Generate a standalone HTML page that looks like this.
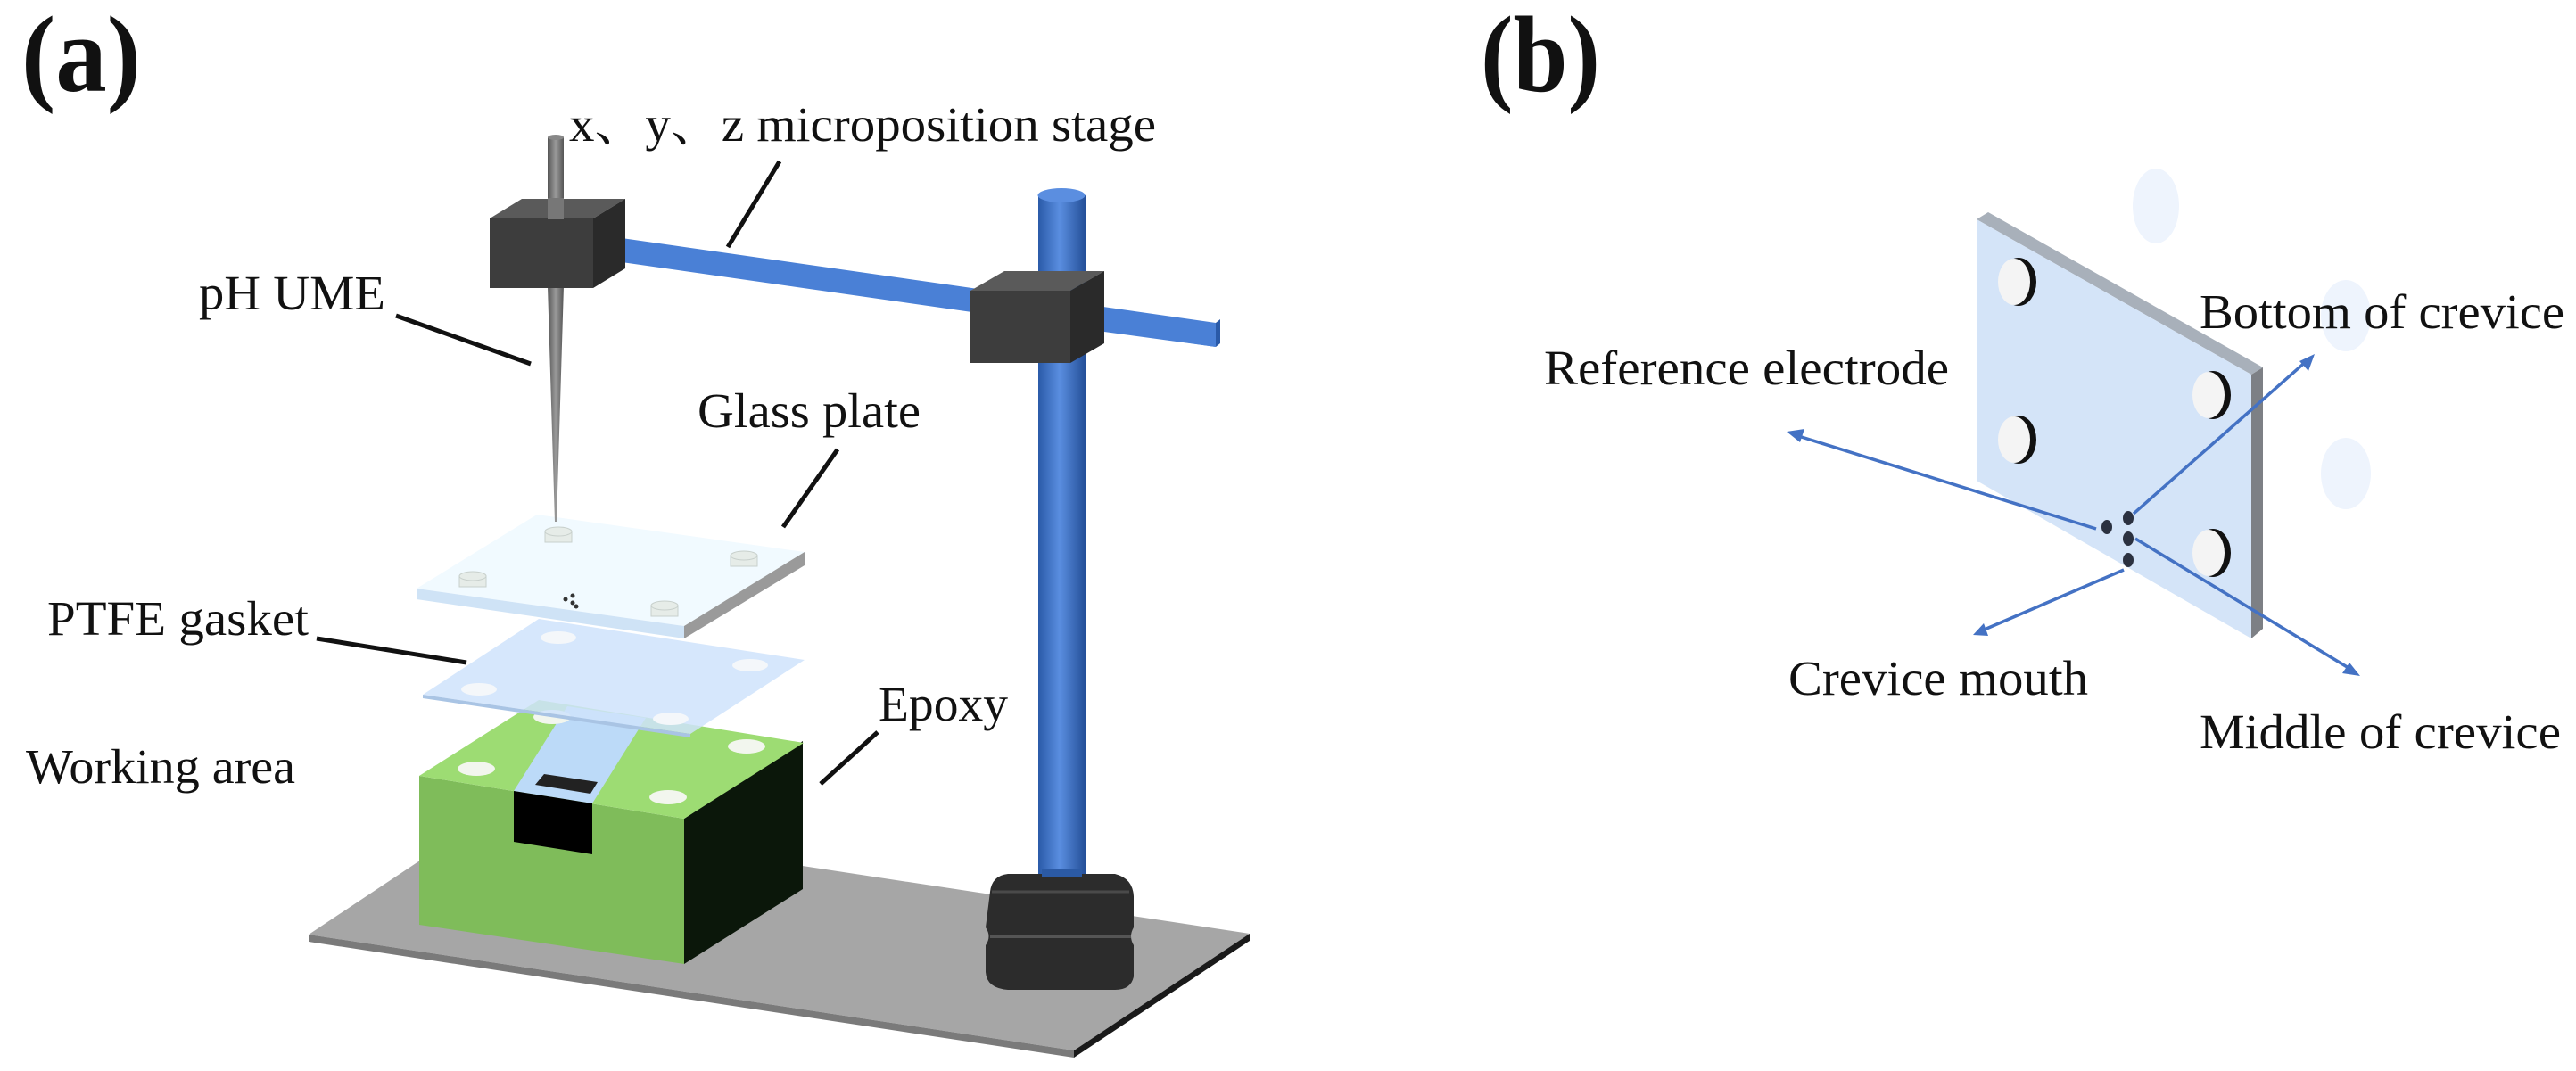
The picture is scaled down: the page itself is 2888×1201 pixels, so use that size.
<!DOCTYPE html>
<html><head><meta charset="utf-8"><style>
html,body{margin:0;padding:0;background:#fff;}
svg{display:block;}
text{font-family:"Liberation Serif","Noto Serif CJK SC",serif;fill:#111;}
</style></head><body>
<svg width="2888" height="1201" viewBox="0 0 2888 1201" xmlns="http://www.w3.org/2000/svg">
<defs>
<linearGradient id="pole" x1="0" x2="1" y1="0" y2="0">
<stop offset="0" stop-color="#2a5aa8"/><stop offset="0.45" stop-color="#5a8ee0"/><stop offset="1" stop-color="#244f98"/>
</linearGradient>
<linearGradient id="needle" x1="0" x2="1" y1="0" y2="0">
<stop offset="0" stop-color="#555"/><stop offset="0.5" stop-color="#9a9a9a"/><stop offset="1" stop-color="#555"/>
</linearGradient>
<marker id="ah" markerWidth="8" markerHeight="8" refX="7" refY="4" orient="auto" markerUnits="userSpaceOnUse" viewBox="0 0 8 8">
</marker>
</defs>

<!-- labels (a) (b) -->
<text x="24" y="102" font-size="122" font-weight="bold" textLength="134" lengthAdjust="spacingAndGlyphs">(a)</text>
<text x="1660" y="102" font-size="122" font-weight="bold" textLength="134" lengthAdjust="spacingAndGlyphs">(b)</text>

<!-- base plate -->
<polygon points="346,1048 543,917 1401,1047 1204,1178" fill="#a6a6a6"/>
<polygon points="346,1048 1204,1178 1204,1186 346,1056" fill="#7a7a7a"/>
<polygon points="1204,1178 1401,1047 1401,1055 1204,1186" fill="#1a1a1a"/>

<!-- box -->
<polygon points="470,870 767,918 767,1081 470,1037" fill="#7fbc5a"/>
<polygon points="767,918 900,831 900,997 767,1081" fill="#0b170a"/>
<polygon points="470,870 604,785 901,833 767,918" fill="#9ddc73"/>
<polygon points="576,887 664,901 724,805 636,792" fill="#bcdaf8"/>
<polygon points="576,887 664,901 664,958 576,944" fill="#000"/>
<polygon points="600,880 662,890 670,877 610,868" fill="#222"/>
<ellipse cx="534" cy="862" rx="21" ry="8" fill="#f2f6ee"/>
<ellipse cx="619" cy="804" rx="21" ry="8" fill="#f2f6ee"/>
<ellipse cx="749" cy="894" rx="21" ry="8" fill="#f2f6ee"/>
<ellipse cx="837" cy="837" rx="21" ry="8" fill="#f2f6ee"/>

<!-- gasket -->
<polygon points="474,779 604,694 902,740 774,823" fill="#cfe3fb" fill-opacity="0.85"/>
<polygon points="474,779 774,823 774,827 474,783" fill="#a9c4e4"/>
<ellipse cx="537" cy="773" rx="20" ry="7" fill="#f4f7fa"/>
<ellipse cx="626" cy="715" rx="20" ry="7" fill="#f4f7fa"/>
<ellipse cx="841" cy="746" rx="20" ry="7" fill="#f4f7fa"/>
<ellipse cx="752" cy="806" rx="20" ry="7" fill="#f4f7fa"/>

<!-- glass plate -->
<polygon points="467,660 602,577 902,619 767,702" fill="#f1faff"/>
<polygon points="467,660 767,702 767,716 467,672" fill="#cfe3f6"/>
<polygon points="767,702 902,619 902,634 767,716" fill="#9a9a9a"/>
<g fill="#e6ece8" stroke="#c8d0cc" stroke-width="1">
<rect x="611" y="596" width="30" height="12"/><ellipse cx="626" cy="596" rx="15" ry="5"/>
<rect x="819" y="623" width="30" height="12"/><ellipse cx="834" cy="623" rx="15" ry="5"/>
<rect x="515" y="646" width="30" height="12"/><ellipse cx="530" cy="646" rx="15" ry="5"/>
<rect x="730" y="679" width="30" height="12"/><ellipse cx="745" cy="679" rx="15" ry="5"/>
</g>
<g fill="#333"><circle cx="634" cy="672" r="2.5"/><circle cx="642" cy="668" r="2.5"/><circle cx="642" cy="676" r="2.5"/><circle cx="646" cy="680" r="2.5"/></g>

<!-- needle -->
<rect x="614" y="154" width="18" height="90" fill="url(#needle)"/>
<ellipse cx="623" cy="154" rx="9" ry="3" fill="#888"/>
<polygon points="614,320 632,320 624,585 622,585" fill="url(#needle)"/>

<!-- blue bar -->
<polygon points="690,266 1363,362 1363,389 690,293" fill="#4a80d6"/>
<polygon points="1363,362 1368,358 1368,385 1363,389" fill="#2a5aa8"/>

<!-- left block -->
<polygon points="549,245 585,223 701,223 665,245" fill="#5a5a5a"/>
<polygon points="549,245 665,245 665,323 549,323" fill="#3d3d3d"/>
<polygon points="665,245 701,223 701,301 665,323" fill="#2a2a2a"/>
<rect x="614" y="222" width="18" height="24" fill="#777"/>

<!-- pole -->
<rect x="1164" y="219" width="53" height="775" fill="url(#pole)"/>
<ellipse cx="1190" cy="219" rx="26.5" ry="8" fill="#5b8ee0"/>

<!-- right block -->
<polygon points="1088,326 1126,304 1238,304 1200,326" fill="#5a5a5a"/>
<polygon points="1088,326 1200,326 1200,407 1088,407" fill="#3d3d3d"/>
<polygon points="1200,326 1238,304 1238,385 1200,407" fill="#2a2a2a"/>
<polygon points="1238,353 1363,371 1363,389 1238,372" fill="#4a80d6"/>

<!-- foot -->
<path d="M1110,1000 Q1112,982 1130,980 L1250,980 Q1270,985 1271,1005 L1271,1040 Q1265,1050 1271,1060 L1271,1095 Q1268,1110 1250,1110 L1130,1110 Q1106,1108 1105,1090 L1105,1060 Q1112,1050 1105,1040 Z" fill="#2c2c2c"/>
<path d="M1110,1050 L1268,1050" stroke="#555" stroke-width="4"/>
<path d="M1112,1000 L1266,1000" stroke="#4a4a4a" stroke-width="3"/>
<rect x="1168" y="975" width="45" height="8" fill="#2b5aa5"/>

<!-- leader lines -->
<g stroke="#111" stroke-width="5" fill="none">
<line x1="874" y1="181" x2="816" y2="277"/>
<line x1="444" y1="354" x2="595" y2="408"/>
<line x1="939" y1="504" x2="878" y2="591"/>
<line x1="355" y1="716" x2="523" y2="743"/>
<line x1="984" y1="821" x2="920" y2="879"/>
</g>

<!-- labels a -->
<text x="638" y="158" font-size="55" textLength="658" lengthAdjust="spacingAndGlyphs">x、y、z microposition stage</text>
<text x="223" y="347" font-size="55" textLength="209" lengthAdjust="spacingAndGlyphs">pH UME</text>
<text x="782" y="479" font-size="55" textLength="250" lengthAdjust="spacingAndGlyphs">Glass plate</text>
<text x="53" y="712" font-size="55" textLength="293" lengthAdjust="spacingAndGlyphs">PTFE gasket</text>
<text x="29" y="878" font-size="55" textLength="302" lengthAdjust="spacingAndGlyphs">Working area</text>
<text x="985" y="808" font-size="55" textLength="145" lengthAdjust="spacingAndGlyphs">Epoxy</text>

<!-- panel b -->
<ellipse cx="2417" cy="231" rx="26" ry="42" fill="#eef4fd"/>
<ellipse cx="2630" cy="354" rx="28" ry="40" fill="#eef4fd"/>
<ellipse cx="2630" cy="531" rx="28" ry="40" fill="#eef4fd"/>
<polygon points="2216,246 2229,238 2537,412 2524,420" fill="#a8b0ba"/>
<polygon points="2524,420 2537,412 2537,705 2524,716" fill="#7d8085"/>
<polygon points="2216,246 2524,420 2524,716 2216,539" fill="#d4e4f8"/>
<g>
<ellipse cx="2263" cy="316" rx="20" ry="27" fill="#111"/><ellipse cx="2258" cy="316" rx="18" ry="26" fill="#f4f4f4"/>
<ellipse cx="2481" cy="443" rx="20" ry="27" fill="#111"/><ellipse cx="2476" cy="443" rx="18" ry="26" fill="#f4f4f4"/>
<ellipse cx="2263" cy="493" rx="20" ry="27" fill="#111"/><ellipse cx="2258" cy="493" rx="18" ry="26" fill="#f4f4f4"/>
<ellipse cx="2481" cy="620" rx="20" ry="27" fill="#111"/><ellipse cx="2476" cy="620" rx="18" ry="26" fill="#f4f4f4"/>
</g>
<g fill="#2b3140">
<ellipse cx="2362" cy="591" rx="6" ry="8"/><ellipse cx="2386" cy="581" rx="6" ry="8"/>
<ellipse cx="2386" cy="604" rx="6" ry="8"/><ellipse cx="2386" cy="628" rx="6" ry="8"/>
</g>
<g stroke="#4472c4" stroke-width="3.5" fill="none">
<line x1="2350" y1="593" x2="2010" y2="487"/>
<line x1="2392" y1="576" x2="2588" y2="403"/>
<line x1="2381" y1="639" x2="2220" y2="708"/>
<line x1="2394" y1="604" x2="2638" y2="752"/>
</g>
<g fill="#4472c4">
<polygon points="2003,484 2023,481 2018,496"/>
<polygon points="2595,397 2588,416 2578,405"/>
<polygon points="2212,712 2224,699 2229,713"/>
<polygon points="2646,758 2626,755 2634,743"/>
</g>
<text x="2466" y="368" font-size="55" textLength="409" lengthAdjust="spacingAndGlyphs">Bottom of crevice</text>
<text x="1731" y="431" font-size="55" textLength="454" lengthAdjust="spacingAndGlyphs">Reference electrode</text>
<text x="2005" y="779" font-size="55" textLength="336" lengthAdjust="spacingAndGlyphs">Crevice mouth</text>
<text x="2466" y="839" font-size="55" textLength="405" lengthAdjust="spacingAndGlyphs">Middle of crevice</text>
</svg>
</body></html>
